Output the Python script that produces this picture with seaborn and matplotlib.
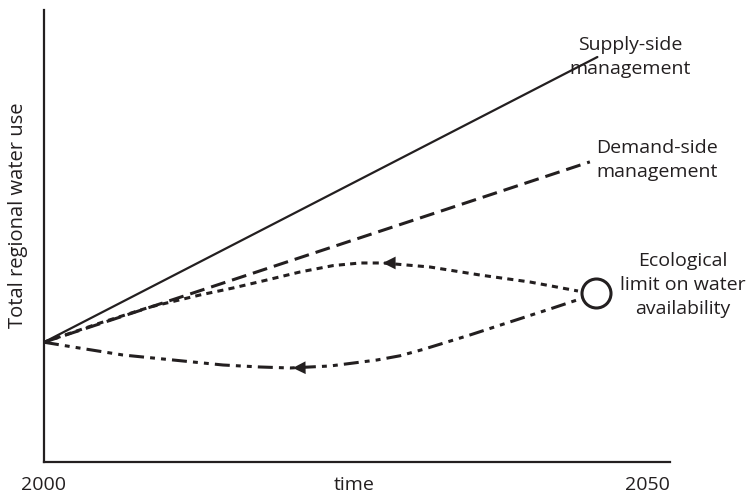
import matplotlib
matplotlib.use("Agg")
import matplotlib.pyplot as plt
import seaborn as sns

# values (x in years, y in arbitrary water-use units 0-100)
supply_years = [2000, 2044.2]
supply_use = [26.5, 89.6]

demand_years = [2000, 2043.6]
demand_use = [26.5, 66.4]

# path rising towards the ecological limit (dotted)
limit_up_years = [2000, 2004.47, 2008.47, 2012.46, 2015.10, 2017.81, 2020.45, 2023.08,
                  2025.24, 2027.08, 2030.83, 2034.82, 2038.82, 2042.65]
limit_up_use = [26.5, 30.75, 34.29, 36.95, 38.50, 40.27, 42.04, 43.45,
                44.03, 44.03, 43.14, 41.37, 39.82, 37.83]

# path coming back down from the limit (dash-dot-dot)
limit_down_years = [2000, 2002.32, 2006.31, 2010.30, 2014.30, 2017.25, 2019.65, 2022.84,
                    2024.44, 2026.60, 2028.43, 2030.27, 2034.02, 2037.46, 2040.65, 2043.05]
limit_down_use = [26.5, 25.44, 23.67, 22.57, 21.46, 21.02, 20.80, 21.24,
                  21.80, 22.57, 23.50, 24.90, 28.10, 31.20, 34.07, 36.28]

limit_year = 2044.1
limit_use = 37.5

ink = "#231f20"

sns.set_theme(style="white")
plt.rcParams["font.family"] = ["Open Sans", "DejaVu Sans"]

fig = plt.figure(figsize=(7.48, 4.97), dpi=100)
ax = fig.add_axes([44 / 748, 35 / 497, 626 / 748, 452 / 497])

sns.lineplot(x=supply_years, y=supply_use, ax=ax, color=ink, lw=1.6)
sns.lineplot(x=demand_years, y=demand_use, ax=ax, color=ink, lw=2.2,
             linestyle=(0, (4.9, 2.3)))
sns.lineplot(x=limit_up_years, y=limit_up_use, ax=ax, color=ink, lw=2.2,
             linestyle=(0, (2.0, 1.7)), sort=False, estimator=None)
sns.lineplot(x=limit_down_years, y=limit_down_use, ax=ax, color=ink, lw=2.2,
             linestyle=(0, (4.9, 2.0, 1.6, 2.0, 1.6, 2.0)), sort=False, estimator=None)

# direction arrows
ax.annotate("", xy=(2026.84, 44.03), xytext=(2027.9, 44.03),
            arrowprops=dict(arrowstyle="-|>", mutation_scale=23, color=ink, lw=0))
ax.annotate("", xy=(2019.65, 20.80), xytext=(2020.7, 20.85),
            arrowprops=dict(arrowstyle="-|>", mutation_scale=23, color=ink, lw=0))

sns.scatterplot(x=[limit_year], y=[limit_use], ax=ax, s=436, color="white",
                edgecolor=ink, linewidth=2.2, zorder=5)

ax.set_xlim(2000, 2050)
ax.set_ylim(0, 100)
ax.set_xticks([])
ax.set_yticks([])
sns.despine(ax=ax)
for side in ["left", "bottom"]:
    ax.spines[side].set_color(ink)
    ax.spines[side].set_linewidth(1.6)

ax.set_ylabel("Total regional water use", fontsize=14.5, color=ink)
ax.yaxis.set_label_coords(-0.0256, 0.546)

fs = 14
ax.text(2000, -0.051, "2000", transform=ax.get_xaxis_transform(), ha="center",
        va="center", fontsize=fs, color=ink)
ax.text(2024.8, -0.051, "time", transform=ax.get_xaxis_transform(), ha="center",
        va="center", fontsize=fs, color=ink)
ax.text(2050, -0.051, "2050", transform=ax.get_xaxis_transform(), ha="right",
        va="center", fontsize=fs, color=ink)

ax.text(2046.8, 89.6, "Supply-side\nmanagement", ha="center", va="center",
        fontsize=fs, color=ink, linespacing=1.42, clip_on=False)
ax.text(2049.0, 66.8, "Demand-side\nmanagement", ha="center", va="center",
        fontsize=fs, color=ink, linespacing=1.42, clip_on=False)
ax.text(2051.0, 39.2, "Ecological\nlimit on water\navailability", ha="center",
        va="center", fontsize=fs, color=ink, linespacing=1.42, clip_on=False)

fig.savefig("out.png", dpi=100)
